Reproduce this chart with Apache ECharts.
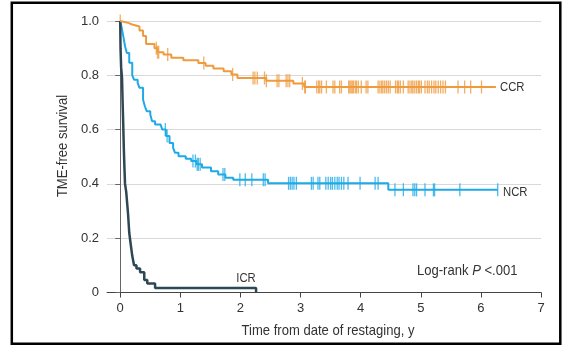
<!DOCTYPE html>
<html>
<head>
<meta charset="utf-8">
<script src="https://cdn.jsdelivr.net/npm/echarts@6/dist/echarts.min.js"></script>
<style>
  html, body { margin: 0; padding: 0; background: #fff; }
  #chart { width: 562px; height: 348px; }
</style>
</head>
<body>
<div id="chart"></div>
<script>
// step points [time (y), survival]
const ccrSteps = [[0, 1.0], [0.02, 0.993], [0.13, 0.987], [0.2, 0.98], [0.32, 0.965], [0.38, 0.945], [0.43, 0.915],
  [0.57, 0.9], [0.62, 0.885], [0.72, 0.877], [0.85, 0.865], [1.05, 0.855], [1.3, 0.845], [1.42, 0.835],
  [1.55, 0.825], [1.72, 0.815], [1.85, 0.803], [1.95, 0.79], [2.43, 0.78], [2.88, 0.77], [3.06, 0.757], [6.25, 0.757]];
const ncrSteps = [[0, 1.0], [0.02, 0.98], [0.05, 0.945], [0.08, 0.907], [0.11, 0.882], [0.15, 0.846], [0.2, 0.8],
  [0.23, 0.784], [0.29, 0.772], [0.32, 0.754], [0.38, 0.71], [0.41, 0.686], [0.44, 0.668], [0.5, 0.656],
  [0.53, 0.631], [0.58, 0.619], [0.67, 0.613], [0.7, 0.6], [0.76, 0.576], [0.82, 0.551], [0.88, 0.533],
  [0.91, 0.515], [0.97, 0.502], [1.09, 0.493], [1.18, 0.484], [1.27, 0.472], [1.36, 0.46], [1.51, 0.447],
  [1.63, 0.435], [1.75, 0.423], [1.88, 0.415], [2.46, 0.402], [4.46, 0.378], [6.28, 0.378]];
const icrSteps = [[0, 1.0], [0.005, 0.9], [0.015, 0.83], [0.03, 0.79], [0.04, 0.7], [0.05, 0.62], [0.06, 0.53],
  [0.07, 0.46], [0.08, 0.4], [0.1, 0.37], [0.115, 0.33], [0.13, 0.29], [0.15, 0.22], [0.17, 0.185],
  [0.2, 0.135], [0.23, 0.1], [0.27, 0.088], [0.33, 0.075], [0.4, 0.046], [0.45, 0.033], [0.58, 0.017], [2.26, 0]];

// censored times
const ccrCensor = [0, 0.6, 0.62, 0.64, 0.79, 1.39, 1.87, 2.21, 2.24, 2.28, 2.4, 2.43, 2.61, 2.64, 2.76, 2.79, 2.82,
  3.03, 3.07, 3.08, 3.27, 3.3, 3.32, 3.35, 3.43, 3.54, 3.57, 3.65, 3.68, 3.8, 3.82, 3.84, 3.86, 3.88, 3.91, 3.93, 3.96,
  4.01, 4.09, 4.12, 4.29, 4.32, 4.35, 4.37, 4.4, 4.43, 4.46, 4.49, 4.58, 4.61, 4.63, 4.66, 4.71,
  4.79, 4.82, 4.85, 4.87, 4.9, 4.93, 4.96, 4.98, 5.01, 5.07, 5.11, 5.14, 5.18, 5.22, 5.25, 5.29, 5.33, 5.37, 5.41,
  5.62, 5.73, 5.83, 6.01];
const ncrCensor = [0.75, 0.78, 1.21, 1.25, 1.28, 1.3, 1.33, 1.71, 1.74, 1.99, 2.08, 2.19, 2.38, 2.41, 2.8, 2.83, 2.86,
  2.89, 2.93, 3.18, 3.21, 3.29, 3.32, 3.42, 3.46, 3.5, 3.53, 3.57, 3.61, 3.64, 3.68, 3.72, 3.79, 3.99, 4.24, 4.29,
  4.57, 4.71, 4.87, 4.9, 4.93, 5.07, 5.21, 5.23, 5.65, 6.28];

const xTicks = [0, 1, 2, 3, 4, 5, 6, 7];

const FONT = '"Liberation Sans", sans-serif';
const colors = { ccr: '#ef9a3d', ncr: '#1eaae6', icr: '#2e4754' };
const NARROW = 0.87; // the source font is condensed

// survival value at time t from the step curve
function survAt(steps, t) {
  let v = steps[0][1];
  for (const p of steps) { if (p[0] <= t) v = p[1]; }
  return v;
}

function lineSeries(name, steps, color, width) {
  return {
    name, type: 'line', step: 'end', data: steps, showSymbol: false, symbol: 'none',
    lineStyle: { color, width }, silent: true, animation: false
  };
}
function censorSeries(name, steps, times, color) {
  return {
    name: name + ' censored', type: 'scatter', data: times.map(t => [t, survAt(steps, t)]),
    symbol: 'rect', symbolSize: [1.3, 13], itemStyle: { color }, silent: true, animation: false
  };
}
function label(text, x, y, size, align, extra) {
  return Object.assign({
    type: 'text', x, y, scaleX: NARROW,
    style: { text, font: size + 'px ' + FONT, fill: '#333', align, verticalAlign: 'middle' }
  }, extra || {});
}

const chart = echarts.init(document.getElementById('chart'));
chart.setOption({
  animation: false,
  grid: { left: 107, right: 21, top: 21, bottom: 55.5 },
  xAxis: {
    type: 'value', min: -0.22, max: 7,
    axisLine: { show: true, onZero: false, lineStyle: { color: '#444', width: 1 } },
    axisTick: { show: true, length: 5, customValues: xTicks, lineStyle: { color: '#444' } },
    axisLabel: { customValues: xTicks, margin: 9, color: '#333', fontSize: 13, fontFamily: FONT },
    splitLine: { show: false }
  },
  yAxis: {
    type: 'value', min: 0, max: 1, interval: 0.2,
    axisLine: { show: true, lineStyle: { color: '#666', width: 1 } },
    axisTick: { show: true, length: 5, lineStyle: { color: '#666' } },
    axisLabel: { margin: 8, color: '#333', fontSize: 13, fontFamily: FONT,
      formatter: v => (v === 0 ? '0' : v.toFixed(1)) },
    splitLine: { show: true, lineStyle: { color: '#d9d9d9', width: 1 } }
  },
  series: [
    lineSeries('NCR', ncrSteps, colors.ncr, 2),
    censorSeries('NCR', ncrSteps, ncrCensor, colors.ncr),
    lineSeries('ICR', icrSteps, colors.icr, 2.5),
    lineSeries('CCR', ccrSteps, colors.ccr, 2),
    censorSeries('CCR', ccrSteps, ccrCensor, colors.ccr)
  ],
  graphic: [
    { type: 'rect', shape: { x: 11.8, y: 2.7, width: 548.5, height: 341 },
      style: { fill: 'none', stroke: '#000', lineWidth: 2.5 } },
    label('TME-free survival', 63, 146, 15, 'center', { rotation: Math.PI / 2 }),
    label('Time from date of restaging, y', 328, 331, 15, 'center'),
    { type: 'text', x: 417, y: 271, scaleX: NARROW,
      style: {
        text: '{a|Log-rank }{b|P}{a| <.001}', align: 'left', verticalAlign: 'middle',
        rich: {
          a: { font: '15px ' + FONT, fill: '#333' },
          b: { font: 'italic 15px ' + FONT, fill: '#333' }
        }
      } },
    label('CCR', 500, 87, 13, 'left'),
    label('NCR', 503, 192, 13, 'left'),
    label('ICR', 246, 278.5, 13, 'center')
  ]
});
</script>
</body>
</html>
